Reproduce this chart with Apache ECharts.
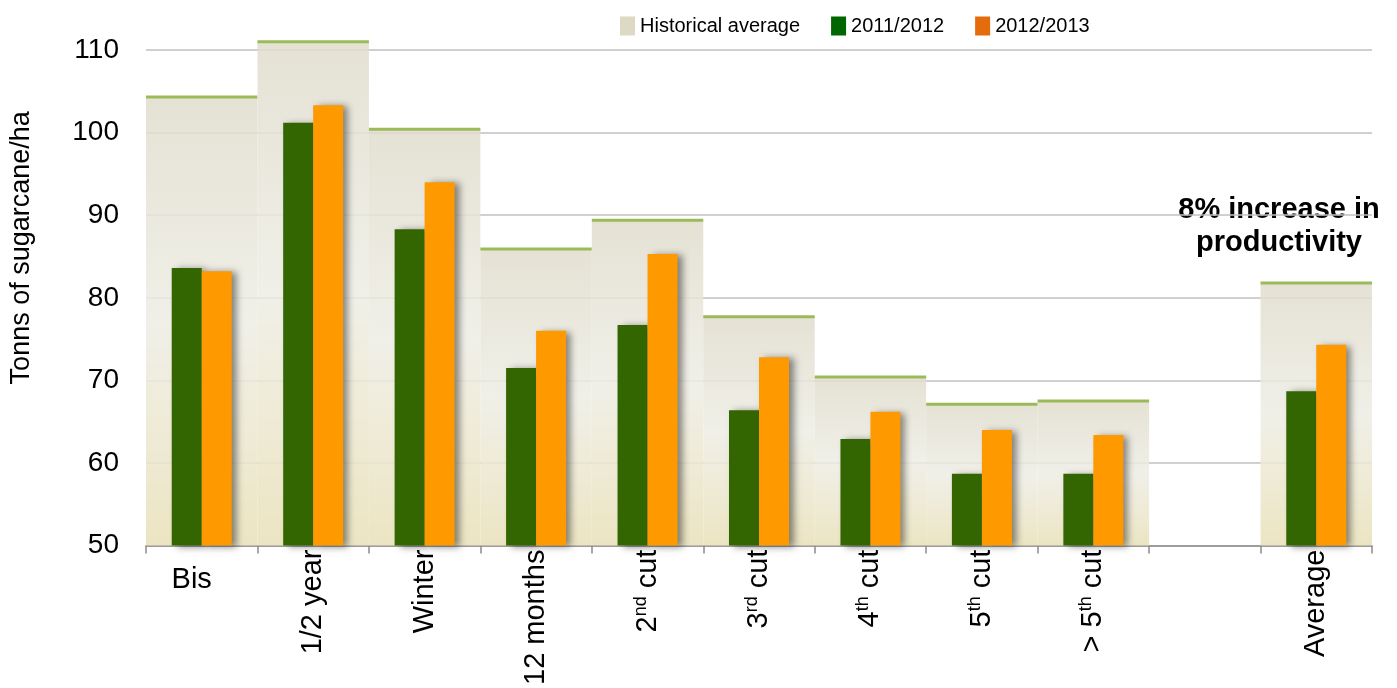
<!DOCTYPE html>
<html>
<head>
<meta charset="utf-8">
<script src="https://cdn.jsdelivr.net/npm/echarts@6/dist/echarts.min.js"></script>
<style>
html,body{margin:0;padding:0;background:#fff;}
#chart{width:1397px;height:688px;}
</style>
</head>
<body>
<div id="chart"></div>
<script>
const categories = ['Bis', '1/2 year', 'Winter', '12 months', '2nd cut', '3rd cut', '4th cut', '5th cut', '> 5th cut', '', 'Average'];
const historicalAverage = [104.3, 111.0, 100.4, 85.9, 89.4, 77.7, 70.4, 67.1, 67.5, null, 81.8];
const season2011 = [83.6, 101.2, 88.3, 71.5, 76.7, 66.4, 62.9, 58.7, 58.7, null, 68.7];
const season2012 = [83.2, 103.3, 94.0, 76.0, 85.3, 72.8, 66.2, 64.0, 63.4, null, 74.3];
const yTicks = { min: 50, max: 110, interval: 10 };
const seriesNames = ['Historical average', '2011/2012', '2012/2013'];
const annotation = '8% increase in\nproductivity';

const FONT = "'Liberation Sans', Arial, sans-serif";
const chart = echarts.init(document.getElementById('chart'), null, { renderer: 'canvas' });

function labelFormatter(v) {
  if (v === 'Bis') return '';
  const m = /^(> )?(\d)(st|nd|rd|th) (.*)$/.exec(v);
  if (m) {
    return '{n|' + (m[1] || '') + m[2] + '}{s|' + m[3] + '}{n| ' + m[4] + '}';
  }
  return '{n|' + v + '}';
}

function renderHist(params, api) {
  const x = api.value(0), v = api.value(1);
  if (v == null || isNaN(v)) return null;
  const top = api.coord([x, v]);
  const bot = api.coord([x, yTicks.min]);
  const w = api.size([1, 0])[0];
  return {
    type: 'group',
    children: [
      {
        type: 'rect',
        shape: { x: top[0] - w / 2, y: top[1], width: w, height: bot[1] - top[1] },
        style: {
          fill: new echarts.graphic.LinearGradient(0, 0, 0, 1, [
            { offset: 0, color: 'rgba(224,221,205,0.85)' },
            { offset: 0.5, color: 'rgba(238,237,228,0.85)' },
            { offset: 1, color: 'rgba(234,226,188,0.9)' }
          ])
        }
      },
      {
        type: 'line',
        shape: { x1: top[0] - w / 2, y1: top[1], x2: top[0] + w / 2, y2: top[1] },
        style: { stroke: '#9bbb59', lineWidth: 3 }
      }
    ]
  };
}

const barShadow = { shadowColor: 'rgba(0,0,0,0.45)', shadowBlur: 7, shadowOffsetX: 5, shadowOffsetY: 1 };

chart.setOption({
  animation: false,
  textStyle: { fontFamily: FONT },
  grid: { left: 145, right: 25, top: 50, bottom: 141, containLabel: false },
  legend: {
    left: 615, top: 11,
    itemWidth: 15, itemHeight: 19, itemGap: 31,
    icon: 'rect',
    textStyle: { fontSize: 20, color: '#000', fontFamily: FONT },
    data: [
      { name: seriesNames[0], itemStyle: { color: '#ddd9c3' } },
      { name: seriesNames[1], itemStyle: { color: '#006600' } },
      { name: seriesNames[2], itemStyle: { color: '#e46c0a' } }
    ]
  },
  xAxis: [
    {
      type: 'category',
      data: categories,
      boundaryGap: true,
      axisLine: { lineStyle: { color: '#8c8c8c', width: 1.5 } },
      axisTick: { show: true, length: 8, interval: 0, lineStyle: { color: '#8c8c8c', width: 1.5 } },
      axisLabel: {
        interval: 0, rotate: 90, margin: 4, color: '#000',
        formatter: labelFormatter,
        rich: {
          n: { fontSize: 29, fontFamily: FONT, color: '#000', lineHeight: 32 },
          s: { fontSize: 18, fontFamily: FONT, color: '#000', lineHeight: 19, verticalAlign: 'top' }
        }
      },
      splitLine: { show: false }
    },
    {
      type: 'category',
      data: categories,
      position: 'bottom',
      boundaryGap: true,
      axisLine: { show: false },
      axisTick: { show: false },
      axisLabel: {
        interval: 0, rotate: 0, margin: 20, color: '#000', fontSize: 29, fontFamily: FONT,
        padding: [0, 20, 0, 0],
        formatter: function (v) { return v === 'Bis' ? v : ''; }
      },
      splitLine: { show: false }
    }
  ],
  yAxis: {
    type: 'value',
    min: yTicks.min, max: yTicks.max, interval: yTicks.interval,
    name: 'Tonns of sugarcane/ha',
    nameLocation: 'middle',
    nameGap: 111,
    nameRotate: 90,
    nameTextStyle: { fontSize: 27, color: '#000', fontFamily: FONT, padding: [0, 0, 0, 100] },
    axisLine: { show: false },
    axisTick: { show: false },
    axisLabel: { fontSize: 28, color: '#000', margin: 27, fontFamily: FONT },
    splitLine: { lineStyle: { color: '#c0c0c0', width: 1.5 } }
  },
  series: [
    {
      name: seriesNames[0],
      type: 'custom',
      xAxisIndex: 0,
      renderItem: renderHist,
      encode: { x: 0, y: 1 },
      data: historicalAverage.map((v, i) => [i, v == null ? NaN : v]),
      z: 1,
      itemStyle: { color: '#ddd9c3' }
    },
    {
      name: seriesNames[1],
      type: 'bar',
      xAxisIndex: 0,
      data: season2011.map(v => v == null ? '-' : v),
      barWidth: 30,
      barGap: '0%',
      z: 3,
      itemStyle: Object.assign({ color: '#336600' }, barShadow)
    },
    {
      name: seriesNames[2],
      type: 'bar',
      xAxisIndex: 0,
      data: season2012.map(v => v == null ? '-' : v),
      barWidth: 30,
      barGap: '0%',
      z: 3,
      itemStyle: Object.assign({ color: '#ff9900' }, barShadow)
    }
  ],
  graphic: [
    {
      type: 'text',
      left: 1176, top: 193,
      style: {
        text: annotation,
        font: "bold 29px 'Liberation Sans', Arial, sans-serif",
        fill: '#000',
        textAlign: 'center',
        lineHeight: 33,
        width: 206
      }
    }
  ]
});
</script>
</body>
</html>
